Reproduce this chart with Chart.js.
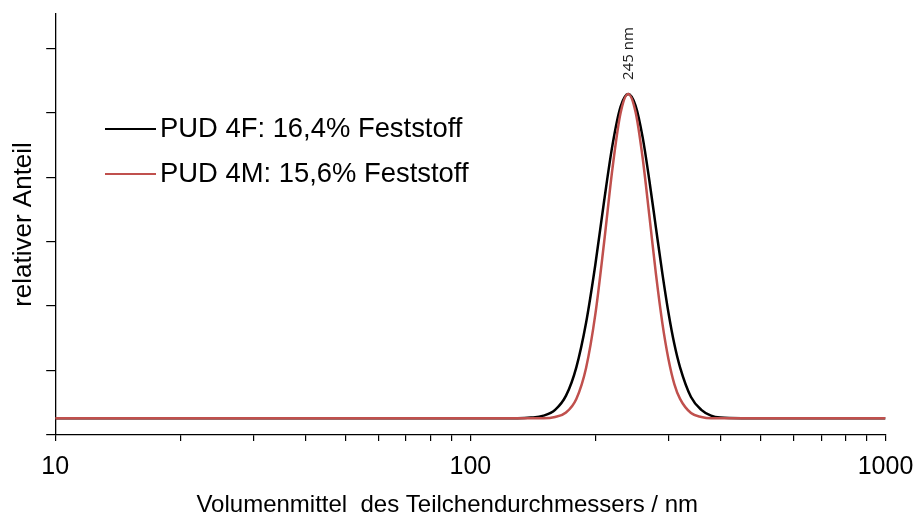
<!DOCTYPE html>
<html>
<head>
<meta charset="utf-8">
<script src="https://cdn.jsdelivr.net/npm/chart.js@4.4.1/dist/chart.umd.min.js"></script>
<style>
  html, body { margin: 0; padding: 0; background: #fff; }
  #wrap { width: 920px; height: 521px; }
</style>
</head>
<body>
<div id="wrap"><canvas id="psdChart"></canvas></div>
<script>
/* Partikelgrößenverteilung PUD 4F / 4M */
const diameters = [10, 50, 100, 120, 130, 140, 150, 160, 170, 180, 190, 200, 210, 220, 230, 240, 250, 260, 270, 280, 290, 300, 310, 320, 340, 360, 380, 400, 450, 500, 1000];
const pud4F = [0.26, 0.26, 0.26, 0.26, 0.26, 0.27, 0.30, 0.39, 0.61, 1.05, 1.74, 2.64, 3.63, 4.50, 5.09, 5.29, 5.11, 4.62, 3.94, 3.21, 2.51, 1.90, 1.41, 1.05, 0.59, 0.39, 0.30, 0.27, 0.26, 0.26, 0.26];
const pud4M = [0.26, 0.26, 0.26, 0.26, 0.26, 0.26, 0.26, 0.28, 0.35, 0.56, 1.04, 1.87, 2.99, 4.14, 4.99, 5.29, 5.01, 4.30, 3.39, 2.49, 1.74, 1.18, 0.79, 0.56, 0.34, 0.28, 0.26, 0.26, 0.26, 0.26, 0.26];
const seriesLabels = ['PUD 4F: 16,4% Feststoff', 'PUD 4M: 15,6% Feststoff'];
const xTickValues = [10, 20, 30, 40, 50, 60, 70, 80, 90, 100, 200, 300, 400, 500, 600, 700, 800, 900, 1000];
const xTickLabels = ['10', '100', '1000'];
const xTitle = 'Volumenmittel  des Teilchendurchmessers / nm';
const yTitle = 'relativer Anteil';
const peakLabel = '245 nm';

const FONT = "'Liberation Sans', Arial, sans-serif";

const toPoints = ys => diameters.map((d, i) => ({ x: d, y: ys[i] }));

// legend drawn inside the plot, upper left
const innerLegend = {
  id: 'innerLegend',
  afterDraw(chart) {
    const ctx = chart.ctx;
    const rows = [
      { ds: chart.data.datasets[0], y: 129 },
      { ds: chart.data.datasets[1], y: 174 }
    ];
    ctx.save();
    rows.forEach(r => {
      ctx.strokeStyle = r.ds.borderColor;
      ctx.lineWidth = 2;
      ctx.beginPath();
      ctx.moveTo(105, r.y);
      ctx.lineTo(156, r.y);
      ctx.stroke();
      ctx.fillStyle = '#000';
      ctx.font = '27.4px ' + FONT;
      ctx.textBaseline = 'middle';
      ctx.textAlign = 'left';
      ctx.fillText(r.ds.label, 160, r.y);
    });
    ctx.restore();
  }
};

// x axis title, sits a bit left of the plot centre in the original
const xTitlePlugin = {
  id: 'xTitlePlugin',
  afterDraw(chart) {
    const ctx = chart.ctx;
    ctx.save();
    ctx.font = '24px ' + FONT;
    ctx.fillStyle = '#000';
    ctx.textAlign = 'center';
    ctx.textBaseline = 'middle';
    ctx.fillText(xTitle, chart.chartArea.left + 392, chart.height - 16);
    ctx.restore();
  }
};

// vertical peak label above the maximum
const peakNote = {
  id: 'peakNote',
  afterDatasetsDraw(chart) {
    const ctx = chart.ctx;
    let iMax = 0;
    pud4F.forEach((v, i) => { if (v > pud4F[iMax]) iMax = i; });
    const px = chart.scales.x.getPixelForValue(diameters[iMax]);
    const py = chart.scales.y.getPixelForValue(pud4F[iMax]);
    ctx.save();
    ctx.translate(px + 1, py - 14);
    ctx.rotate(-Math.PI / 2);
    ctx.font = "15px 'Open Sans', sans-serif";
    ctx.fillStyle = '#222';
    ctx.textAlign = 'left';
    ctx.textBaseline = 'middle';
    ctx.fillText(peakLabel, 0, 0);
    ctx.restore();
  }
};

new Chart(document.getElementById('psdChart'), {
  type: 'line',
  data: {
    datasets: [
      { label: seriesLabels[0], data: toPoints(pud4F), borderColor: '#000000', borderWidth: 2.5, pointRadius: 0, cubicInterpolationMode: 'monotone', fill: false, order: 1 },
      { label: seriesLabels[1], data: toPoints(pud4M), borderColor: '#c0504d', borderWidth: 2.5, pointRadius: 0, cubicInterpolationMode: 'monotone', fill: false, order: 0 }
    ]
  },
  options: {
    responsive: true,
    maintainAspectRatio: false,
    animation: false,
    layout: { padding: { top: 14, right: 34.5, bottom: 28, left: 0 } },
    plugins: { legend: { display: false }, tooltip: { enabled: false } },
    scales: {
      x: {
        type: 'logarithmic',
        min: 10,
        max: 1000,
        afterBuildTicks(axis) { axis.ticks = xTickValues.map(v => ({ value: v })); },
        afterFit(axis) { axis.paddingRight = 0; axis.paddingLeft = 0; },
        ticks: {
          autoSkip: false,
          maxRotation: 0,
          padding: 11,
          color: '#000',
          font: { family: FONT, size: 25 },
          callback(v) { const s = String(v); return xTickLabels.includes(s) ? s : ''; }
        },
        grid: { drawOnChartArea: false, drawTicks: true, tickLength: 6, color: '#000', lineWidth: 1.2 },
        border: { display: true, color: '#000', width: 1.3 }
      },
      y: {
        min: 0,
        max: 6.53,
        ticks: { display: false, stepSize: 1, includeBounds: false },
        grid: { drawOnChartArea: false, drawTicks: true, tickLength: 9, color: '#000', lineWidth: 1.2 },
        border: { display: true, color: '#000', width: 1.3 },
        title: { display: true, text: yTitle, color: '#000', font: { family: FONT, size: 26 }, padding: { top: 8, bottom: 7 } }
      }
    }
  },
  plugins: [innerLegend, xTitlePlugin, peakNote]
});
</script>
</body>
</html>
